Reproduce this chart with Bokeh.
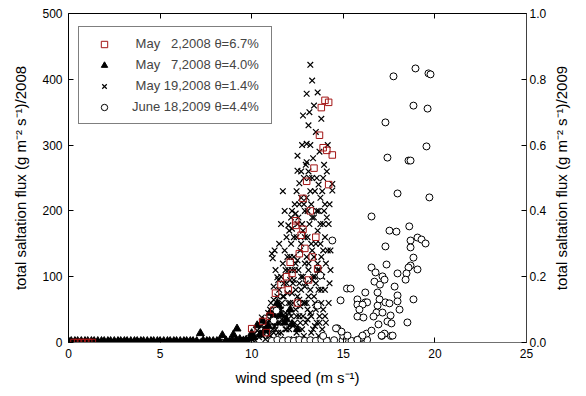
from bokeh.plotting import figure
from bokeh.layouts import row
from bokeh.models import (Range1d, LinearAxis, Legend, LegendItem, FixedTicker,
                          NumeralTickFormatter, Title)
from bokeh.embed import file_html
from bokeh.resources import INLINE

# ---------------- data ----------------
x_ticks = [0, 5, 10, 15, 20, 25]
y_ticks = [0, 100, 200, 300, 400, 500]
y2_ticks = [0.0, 0.2, 0.4, 0.6, 0.8, 1.0]

legend_labels = [
    "\u00a0May\u00a0\u00a0\u00a02,2008\u00a0\u03b8=6.7%",
    "\u00a0May\u00a0\u00a0\u00a07,2008\u00a0\u03b8=4.0%",
    "\u00a0May\u00a019,2008\u00a0\u03b8=1.4%",
    "June\u00a018,2009\u00a0\u03b8=4.4%",
]
x_title = "wind speed (m s\u207b\u00b9)"
y_title = "total saltation flux (g m\u207b\u00b2 s\u207b\u00b9)/2008"
y2_title = "total saltation flux (g m\u207b\u00b2 s\u207b\u00b9)/2009"

# May 2, 2008 (squares)
may2_wind = [0.3, 0.5, 0.7, 0.9, 1.1, 1.3,
             10.0, 10.6, 10.8, 11.0, 11.2, 11.3, 11.6, 11.9, 12.0, 12.1, 12.2, 12.4, 12.4,
             12.5, 12.6, 12.7, 12.8, 12.8, 12.9, 13.0, 13.1, 13.2, 13.3, 13.4, 13.5, 13.6,
             13.7, 13.8, 13.9, 14.0, 14.1, 14.2, 14.2, 14.4]
may2_flux = [0, 0, 0, 0, 0, 0,
             21, 32, 15, 40, 49, 75, 88, 100, 80, 122, 105, 185, 178,
             60, 135, 163, 172, 219, 143, 245, 95, 200, 130, 265, 160, 112,
             315, 357, 296, 368, 292, 365, 240, 285]

# May 7, 2008 (triangles)
may7_wind = [0.0, 0.15, 0.35, 0.5, 0.7, 0.9, 1.05, 1.25, 1.4, 1.6, 1.8, 1.95, 2.15, 2.3,
             2.5, 2.7, 2.85, 3.05, 3.2, 3.4, 3.6, 3.75, 3.95, 4.1, 4.3, 4.5, 4.65, 4.85,
             5.0, 5.2, 5.4, 5.55, 5.75, 5.9, 6.1, 6.3, 6.45, 6.65, 6.8, 7.0, 7.2, 7.35,
             7.55, 7.7, 7.9, 8.1, 8.25, 8.4, 8.6, 8.8, 8.95, 9.0, 9.15, 9.2, 9.35, 9.55,
             9.7, 9.9, 10.0, 10.1, 10.3, 10.45, 10.6, 10.8, 11.0, 11.2, 11.5, 11.8, 12.1,
             10.7, 10.9, 11.1, 11.3, 11.4, 11.6, 11.9, 12.2, 12.5]
may7_flux = [2, 2, 2, 2, 2, 2, 2, 2, 2, 2, 2, 2, 2, 2,
             2, 2, 2, 2, 2, 2, 2, 2, 2, 2, 2, 2, 2, 2,
             2, 2, 2, 2, 2, 2, 2, 2, 2, 2, 2, 2, 14, 3,
             2, 2, 2, 2, 2, 11, 3, 2, 3, 12, 4, 21, 5, 3,
             4, 6, 14, 8, 26, 12, 33, 20, 45, 40, 55, 30, 50,
             18, 25, 35, 30, 60, 42, 35, 28, 20]

# May 19, 2008 (crosses)
may19_wind = [0.1, 0.25, 0.45, 0.6, 0.8, 1.0, 1.15, 1.35, 1.5, 1.7, 1.9, 2.05, 2.25, 2.4,
              2.6, 2.8, 2.95, 3.15, 3.3, 3.5, 3.7, 3.85, 4.05, 4.2, 4.4, 4.6, 4.75, 4.95,
              5.1, 5.3, 5.5, 5.65, 5.85, 6.0, 6.2, 6.4, 6.55, 6.75, 6.9, 7.1, 7.3, 7.45,
              7.65, 7.8, 8.0, 8.2, 8.35, 8.55, 8.7, 8.9, 9.1, 9.25, 9.45, 9.6, 9.8,
              10.0, 10.1, 10.2, 10.3, 10.4, 10.45, 10.5,
              10.55, 10.6, 10.7, 10.75, 10.8, 10.9, 10.95, 11.0,
              11.05, 11.1, 11.15, 11.15, 11.2, 11.25, 11.25, 11.3, 11.35, 11.4, 11.4, 11.45, 11.5,
              11.55, 11.6, 11.6, 11.65, 11.7, 11.7, 11.75, 11.8, 11.8, 11.85, 11.9, 11.95,
              12.0, 12.05, 12.1, 12.15, 12.2, 12.2, 12.25, 12.3, 12.3, 12.35, 12.35, 12.4, 12.4,
              12.45, 12.45, 12.5, 12.5,
              12.55, 12.6, 12.6, 12.65, 12.7, 12.7, 12.75, 12.8, 12.8, 12.85, 12.9, 12.9,
              12.95, 13.0, 13.0, 13.0,
              13.05, 13.1, 13.1, 13.15, 13.15, 13.2, 13.2, 13.25, 13.3, 13.3, 13.35, 13.4,
              13.4, 13.45, 13.5,
              13.55, 13.6, 13.6, 13.65, 13.7, 13.75, 13.8, 13.8, 13.85, 13.9, 13.95,
              14.0, 14.05, 14.1, 14.15, 14.2, 14.25, 14.3, 14.4, 14.4,
              11.5, 12.0, 12.6, 13.1, 13.6, 14.1,
              11.9, 12.0, 12.1, 12.15, 12.2, 12.25, 12.3, 12.35, 12.4, 12.45, 12.5, 12.5,
              12.55, 12.6, 12.6, 12.65, 12.7, 12.7, 12.75, 12.75, 12.8, 12.85, 12.85, 12.9,
              12.9, 12.95, 12.95, 13.0, 13.0, 13.05, 13.05, 13.1, 13.1, 13.15, 13.2, 13.2,
              13.25, 13.25, 13.3, 13.3, 13.35, 13.35, 13.4, 13.45, 13.45, 13.5, 13.5, 13.55,
              13.55, 13.6, 13.65, 13.65, 13.7, 13.7, 13.75, 13.75, 13.8, 13.85, 13.9, 13.9,
              13.95, 14.0, 14.0, 14.05, 14.1, 14.15, 14.2, 14.25, 14.3, 11.3, 11.45, 11.6,
              11.75, 11.85, 11.95, 11.0, 11.2, 11.55, 12.05, 12.15,
              10.6, 10.7, 10.85, 11.0, 11.1, 11.2, 11.3, 11.4, 11.5, 11.6, 11.7, 11.8,
              11.9, 12.0, 12.1, 12.2, 12.3, 12.4, 12.5, 12.6, 12.7, 12.8, 12.9, 13.0,
              13.1, 13.2, 13.3, 13.4, 13.5, 13.6, 13.7, 13.8, 13.9, 14.0, 11.25, 11.45,
              11.65, 11.85, 12.05, 12.25, 12.45, 12.65, 12.85, 13.05, 13.25, 13.45, 13.65, 13.85]
may19_flux = [1, 0, 2, 1, 0, 1, 2, 0, 1, 1, 0, 2, 1, 0,
              1, 2, 0, 1, 1, 0, 2, 1, 0, 1, 2, 0, 1, 1,
              0, 2, 1, 0, 1, 1, 0, 2, 1, 0, 1, 2, 0, 1,
              1, 0, 2, 1, 0, 1, 2, 1, 0, 2, 1, 3, 2,
              5, 12, 3, 18, 8, 15, 25,
              38, 10, 30, 5, 20, 45, 12, 35,
              60, 135, 20, 128, 85, 50, 140, 110, 40, 70, 99, 95, 150,
              30, 180, 15, 60, 120, 230, 90, 200, 140, 45, 160, 75,
              178, 20, 95, 150, 173, 110, 60, 130, 5, 210, 110, 196, 80,
              40, 160, 284, 261,
              190, 242, 90, 30, 150, 220, 300, 345, 170, 210, 120, 60,
              270, 378, 274, 302,
              200, 330, 70, 250, 350, 422, 230, 150, 398, 190, 280, 360,
              130, 100, 320,
              250, 380, 120, 200, 290, 150, 340, 60, 230, 180, 270,
              210, 120, 260, 300, 180, 90, 140, 241, 231,
              3, 2, 4, 3, 2, 4,
              20, 60, 130, 40, 200, 90, 160, 30, 120, 230, 70, 180,
              110, 40, 210, 140, 80, 260, 20, 180, 100, 60, 250, 200,
              160, 90, 30, 130, 220, 50, 160, 110, 260, 180, 80, 300,
              40, 210, 140, 250, 100, 20, 190, 230, 60, 150, 90, 200,
              30, 170, 240, 80, 110, 40, 220, 180, 130, 100, 50, 250,
              200, 160, 80, 30, 190, 140, 60, 210, 110, 20, 30, 100,
              70, 110, 130, 10, 15, 5, 170, 190,
              15, 22, 28, 50, 30, 65, 45, 55, 80, 50, 70, 40,
              90, 110, 60, 75, 95, 50, 125, 65, 100, 40, 85, 60,
              120, 45, 95, 70, 50, 110, 30, 80, 140, 40, 25, 15,
              35, 20, 45, 25, 15, 55, 10, 35, 15, 25, 10, 20]

# June 18, 2009 (circles, right axis)
jun18_wind = [11.1, 11.4, 11.7, 12.0, 12.3, 12.6, 12.9, 13.2, 13.5, 13.8, 14.1, 14.5, 14.96,
              15.45, 15.77, 16.2, 16.3, 13.9, 15.0, 16.0, 17.1, 17.6, 16.27, 17.25, 15.23,
              14.68, 14.9, 14.6, 11.35, 11.2, 13.75, 14.85, 13.6, 14.4, 15.2,
              18.94, 17.74, 19.65, 19.76, 18.83, 19.6, 17.3, 19.54, 17.41, 18.56, 18.67,
              17.96, 19.7, 16.54, 17.52, 17.9, 18.6, 18.67, 19.05, 19.27, 19.49, 18.67,
              17.3, 18.83, 18.67, 18.56, 19.05, 17.36, 16.54, 16.76, 17.14, 17.96, 18.45,
              18.4, 16.7, 17.0, 17.25, 17.8, 15.4, 16.87, 16.2, 17.96, 15.77, 16.2, 16.3,
              16.98, 17.3, 17.52, 17.96, 18.83, 15.77, 16.05, 16.87, 15.88, 18.07, 16.81,
              17.14, 17.58, 15.77, 16.1, 16.65, 17.41, 17.63, 16.92, 18.5, 16.54, 17.09,
              17.69, 16.05, 15.77]
jun18_flux = [0.005, 0.008, 0.005, 0.007, 0.005, 0.008, 0.005, 0.007, 0.005, 0.008, 0.005,
              0.007, 0.007, 0.005, 0.008, 0.005, 0.008, 0.02, 0.02, 0.015, 0.02, 0.02, 0.027,
              0.027, 0.021, 0.043, 0.033, 0.043, 0.097, 0.067, 0.204, 0.128, 0.112, 0.31, 0.164,
              0.833, 0.809, 0.818, 0.815, 0.72, 0.711, 0.669, 0.596, 0.562, 0.553, 0.553,
              0.453, 0.441, 0.383, 0.34, 0.337, 0.353, 0.31, 0.319, 0.313, 0.301, 0.289,
              0.292, 0.258, 0.234, 0.228, 0.222, 0.237, 0.228, 0.213, 0.201, 0.21, 0.21,
              0.191, 0.185, 0.176, 0.191, 0.17, 0.164, 0.152, 0.152, 0.143, 0.131, 0.122, 0.122,
              0.131, 0.122, 0.119, 0.125, 0.131, 0.115, 0.115, 0.112, 0.1, 0.1, 0.091,
              0.091, 0.082, 0.079, 0.076, 0.079, 0.064, 0.058, 0.055, 0.061, 0.036, 0.021,
              0.021, 0.021, 0.008]

# ---------------- figure ----------------
FONT = "Liberation Sans"

p = figure(frame_width=458, frame_height=329,
           x_range=Range1d(0, 25), y_range=Range1d(0, 500),
           output_backend="svg", toolbar_location=None,
           min_border_left=68, min_border_right=20, min_border_top=13, min_border_bottom=46,
           background_fill_color="white", border_fill_color="white")
p.extra_y_ranges = {"y2": Range1d(0, 1)}
p.outline_line_color = None
p.xgrid.visible = False
p.ygrid.visible = False

bottom_axis = p.below[0]
left_axis = p.left[0]

bottom_axis.axis_label = x_title
left_axis.axis_label = y_title
bottom_axis.ticker = FixedTicker(ticks=x_ticks)
left_axis.ticker = FixedTicker(ticks=y_ticks)

right_axis = LinearAxis(y_range_name="y2", ticker=FixedTicker(ticks=y2_ticks),
                        formatter=NumeralTickFormatter(format="0.0"))
p.add_layout(right_axis, "right")
top_axis = LinearAxis(ticker=FixedTicker(ticks=x_ticks))
p.add_layout(top_axis, "above")

for ax in [bottom_axis, left_axis, right_axis, top_axis]:
    ax.major_tick_in = 5
    ax.major_tick_out = 0
    ax.minor_tick_in = 0
    ax.minor_tick_out = 0
    ax.axis_line_color = "black"
    ax.major_tick_line_color = "black"
    ax.major_label_text_font = FONT
    ax.major_label_text_font_size = "12px"
    ax.major_label_text_color = "black"
    ax.axis_label_text_font = FONT
    ax.axis_label_text_font_size = "15px"
    ax.axis_label_text_font_style = "normal"
    ax.axis_label_text_color = "black"

bottom_axis.axis_line_color = "#707070"
right_axis.axis_line_color = "#404040"
bottom_axis.major_label_standoff = 6
bottom_axis.axis_label_standoff = 8
left_axis.major_label_standoff = 6
left_axis.axis_label_standoff = 10
right_axis.major_label_standoff = 3
top_axis.major_label_text_color = None
top_axis.major_label_text_font_size = "8px"
top_axis.major_label_standoff = 0

r7 = p.scatter(may7_wind, may7_flux, marker="triangle", size=8,
               fill_color="black", line_color="black")
r19 = p.scatter(may19_wind, may19_flux, marker="x", size=8,
                line_color="black", line_width=1.2)
r2 = p.scatter(may2_wind, may2_flux, marker="square", size=6.5,
               fill_color=None, line_color="#a31515", line_width=1)
r18 = p.scatter(jun18_wind, jun18_flux, y_range_name="y2", marker="circle", size=7,
                fill_color="white", line_color="black", line_width=1)

legend = Legend(items=[LegendItem(label=legend_labels[0], renderers=[r2]),
                       LegendItem(label=legend_labels[1], renderers=[r7]),
                       LegendItem(label=legend_labels[2], renderers=[r19]),
                       LegendItem(label=legend_labels[3], renderers=[r18])],
                location=(10, 218), margin=0, padding=6, spacing=0,
                glyph_width=38, glyph_height=16, label_height=21, label_width=133,
                label_standoff=9, label_text_font=FONT, label_text_font_size="13px",
                border_line_color="black", border_line_width=1,
                background_fill_color="white", background_fill_alpha=1.0)
p.add_layout(legend)

# narrow companion panel carrying the right-hand title (reads bottom to top)
p2 = figure(frame_width=2, frame_height=329, output_backend="svg", toolbar_location=None,
            x_axis_location=None, y_axis_location=None,
            min_border_left=0, min_border_right=0, min_border_top=13, min_border_bottom=46,
            background_fill_color="white", border_fill_color="white")
p2.outline_line_color = None
p2.grid.visible = False
p2.add_layout(Title(text=y2_title, align="center", text_font=FONT, text_font_size="15px",
                    text_font_style="normal", text_color="black", standoff=2, offset=0),
              "left")

layout = row(p, p2)
open("out.html", "w").write(file_html(layout, INLINE))
